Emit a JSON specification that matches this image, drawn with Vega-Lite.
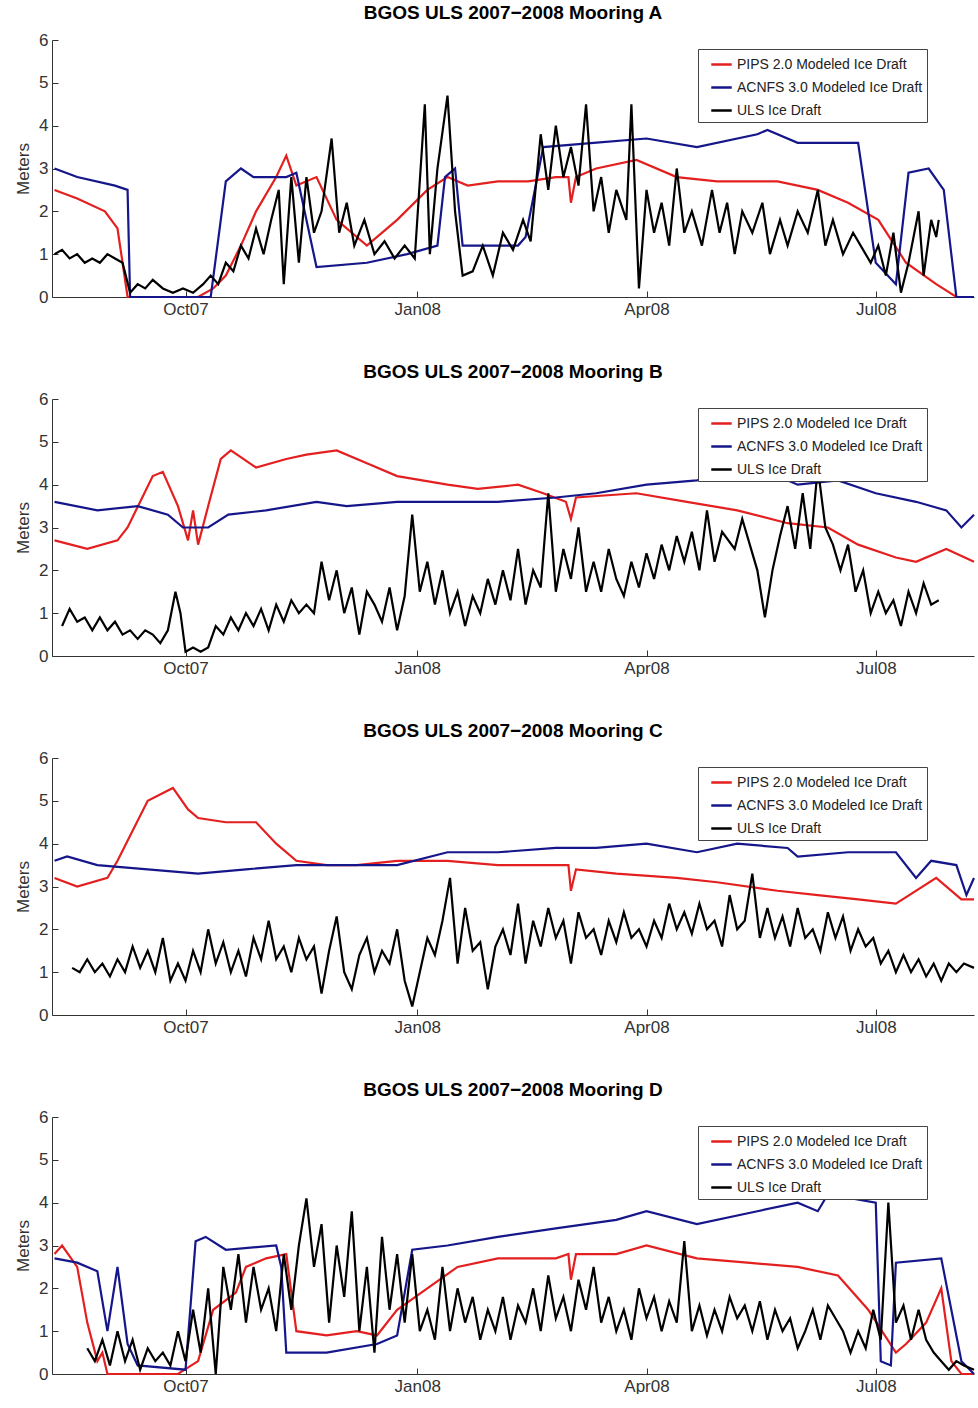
{
"$schema":"https://vega.github.io/schema/vega-lite/v6.json",
"background":"white",
"padding":{"left":14,"top":4,"right":0,"bottom":0},
"spacing":46,
"config":{"font":"Liberation Sans","view":{"stroke":null},
"axis":{"grid":false,"domainColor":"#333","tickColor":"#333","labelColor":"#333","labelFont":"Liberation Sans","labelFontSize":17,"titleFont":"Liberation Sans","titleFontWeight":"normal","titleFontSize":17,"titleColor":"#333","tickSize":-6,"labelPadding":10},
"title":{"font":"Liberation Sans","fontSize":19,"fontWeight":"bold","color":"#000","offset":8},
"legend":{"orient":"none","legendX":646,"legendY":9,"fillColor":"white","strokeColor":"#444","padding":4,"symbolType":"stroke","symbolStrokeWidth":2.5,"symbolSize":420,"labelFontSize":14,"labelColor":"#222","labelLimit":400,"labelFont":"Liberation Sans","rowPadding":4,"symbolOffset":8}},
"datasets":{"d":[
{"p":"A","s":"P","t":1,"v":2.5},{"p":"A","s":"P","t":10,"v":2.3},{"p":"A","s":"P","t":21,"v":2.0},{"p":"A","s":"P","t":26,"v":1.6},{"p":"A","s":"P","t":30,"v":0},{"p":"A","s":"P","t":58,"v":0},{"p":"A","s":"P","t":64,"v":0.2},{"p":"A","s":"P","t":69,"v":0.5},{"p":"A","s":"P","t":75,"v":1.2},{"p":"A","s":"P","t":81,"v":2.0},{"p":"A","s":"P","t":89,"v":2.8},{"p":"A","s":"P","t":93,"v":3.3},{"p":"A","s":"P","t":97,"v":2.6},{"p":"A","s":"P","t":105,"v":2.8},{"p":"A","s":"P","t":113,"v":1.8},{"p":"A","s":"P","t":125,"v":1.2},{"p":"A","s":"P","t":137,"v":1.8},{"p":"A","s":"P","t":149,"v":2.5},{"p":"A","s":"P","t":157,"v":2.8},{"p":"A","s":"P","t":165,"v":2.6},{"p":"A","s":"P","t":177,"v":2.7},{"p":"A","s":"P","t":189,"v":2.7},{"p":"A","s":"P","t":200,"v":2.8},{"p":"A","s":"P","t":205,"v":2.8},{"p":"A","s":"P","t":206,"v":2.2},{"p":"A","s":"P","t":208,"v":2.8},{"p":"A","s":"P","t":216,"v":3.0},{"p":"A","s":"P","t":232,"v":3.2},{"p":"A","s":"P","t":248,"v":2.8},{"p":"A","s":"P","t":264,"v":2.7},{"p":"A","s":"P","t":288,"v":2.7},{"p":"A","s":"P","t":304,"v":2.5},{"p":"A","s":"P","t":316,"v":2.2},{"p":"A","s":"P","t":328,"v":1.8},{"p":"A","s":"P","t":339,"v":0.8},{"p":"A","s":"P","t":351,"v":0.3},{"p":"A","s":"P","t":359,"v":0},{"p":"A","s":"P","t":366,"v":0},
{"p":"A","s":"A","t":1,"v":3.0},{"p":"A","s":"A","t":10,"v":2.8},{"p":"A","s":"A","t":25,"v":2.6},{"p":"A","s":"A","t":30,"v":2.5},{"p":"A","s":"A","t":31,"v":0},{"p":"A","s":"A","t":63,"v":0},{"p":"A","s":"A","t":69,"v":2.7},{"p":"A","s":"A","t":75,"v":3.0},{"p":"A","s":"A","t":80,"v":2.8},{"p":"A","s":"A","t":93,"v":2.8},{"p":"A","s":"A","t":97,"v":2.9},{"p":"A","s":"A","t":105,"v":0.7},{"p":"A","s":"A","t":125,"v":0.8},{"p":"A","s":"A","t":141,"v":1.0},{"p":"A","s":"A","t":153,"v":1.2},{"p":"A","s":"A","t":156,"v":2.8},{"p":"A","s":"A","t":160,"v":3.0},{"p":"A","s":"A","t":163,"v":1.2},{"p":"A","s":"A","t":185,"v":1.2},{"p":"A","s":"A","t":188,"v":1.4},{"p":"A","s":"A","t":195,"v":3.5},{"p":"A","s":"A","t":215,"v":3.6},{"p":"A","s":"A","t":236,"v":3.7},{"p":"A","s":"A","t":256,"v":3.5},{"p":"A","s":"A","t":280,"v":3.8},{"p":"A","s":"A","t":284,"v":3.9},{"p":"A","s":"A","t":296,"v":3.6},{"p":"A","s":"A","t":320,"v":3.6},{"p":"A","s":"A","t":327,"v":0.8},{"p":"A","s":"A","t":335,"v":0.3},{"p":"A","s":"A","t":340,"v":2.9},{"p":"A","s":"A","t":348,"v":3.0},{"p":"A","s":"A","t":354,"v":2.5},{"p":"A","s":"A","t":359,"v":0},{"p":"A","s":"A","t":366,"v":0},
{"p":"A","s":"U","t":1,"v":1.0},{"p":"A","s":"U","t":4,"v":1.1},{"p":"A","s":"U","t":7,"v":0.9},{"p":"A","s":"U","t":10,"v":1.0},{"p":"A","s":"U","t":13,"v":0.8},{"p":"A","s":"U","t":16,"v":0.9},{"p":"A","s":"U","t":19,"v":0.8},{"p":"A","s":"U","t":22,"v":1.0},{"p":"A","s":"U","t":25,"v":0.9},{"p":"A","s":"U","t":28,"v":0.8},{"p":"A","s":"U","t":31,"v":0.1},{"p":"A","s":"U","t":34,"v":0.3},{"p":"A","s":"U","t":37,"v":0.2},{"p":"A","s":"U","t":40,"v":0.4},{"p":"A","s":"U","t":44,"v":0.2},{"p":"A","s":"U","t":48,"v":0.1},{"p":"A","s":"U","t":52,"v":0.2},{"p":"A","s":"U","t":56,"v":0.1},{"p":"A","s":"U","t":60,"v":0.3},{"p":"A","s":"U","t":63,"v":0.5},{"p":"A","s":"U","t":66,"v":0.3},{"p":"A","s":"U","t":69,"v":0.8},{"p":"A","s":"U","t":72,"v":0.6},{"p":"A","s":"U","t":75,"v":1.2},{"p":"A","s":"U","t":78,"v":0.9},{"p":"A","s":"U","t":81,"v":1.6},{"p":"A","s":"U","t":84,"v":1.0},{"p":"A","s":"U","t":87,"v":1.8},{"p":"A","s":"U","t":90,"v":2.5},{"p":"A","s":"U","t":92,"v":0.3},{"p":"A","s":"U","t":95,"v":2.8},{"p":"A","s":"U","t":98,"v":0.8},{"p":"A","s":"U","t":101,"v":2.8},{"p":"A","s":"U","t":104,"v":1.5},{"p":"A","s":"U","t":107,"v":2.0},{"p":"A","s":"U","t":111,"v":3.7},{"p":"A","s":"U","t":114,"v":1.5},{"p":"A","s":"U","t":117,"v":2.2},{"p":"A","s":"U","t":120,"v":1.2},{"p":"A","s":"U","t":124,"v":1.8},{"p":"A","s":"U","t":128,"v":1.0},{"p":"A","s":"U","t":132,"v":1.3},{"p":"A","s":"U","t":136,"v":0.9},{"p":"A","s":"U","t":140,"v":1.2},{"p":"A","s":"U","t":144,"v":0.9},{"p":"A","s":"U","t":148,"v":4.5},{"p":"A","s":"U","t":150,"v":1.0},{"p":"A","s":"U","t":153,"v":3.0},{"p":"A","s":"U","t":157,"v":4.7},{"p":"A","s":"U","t":160,"v":2.0},{"p":"A","s":"U","t":163,"v":0.5},{"p":"A","s":"U","t":167,"v":0.6},{"p":"A","s":"U","t":171,"v":1.2},{"p":"A","s":"U","t":175,"v":0.5},{"p":"A","s":"U","t":179,"v":1.5},{"p":"A","s":"U","t":183,"v":1.1},{"p":"A","s":"U","t":187,"v":1.8},{"p":"A","s":"U","t":190,"v":1.3},{"p":"A","s":"U","t":194,"v":3.8},{"p":"A","s":"U","t":197,"v":2.5},{"p":"A","s":"U","t":200,"v":4.0},{"p":"A","s":"U","t":203,"v":2.8},{"p":"A","s":"U","t":206,"v":3.5},{"p":"A","s":"U","t":209,"v":2.6},{"p":"A","s":"U","t":212,"v":4.5},{"p":"A","s":"U","t":215,"v":2.0},{"p":"A","s":"U","t":218,"v":2.8},{"p":"A","s":"U","t":221,"v":1.5},{"p":"A","s":"U","t":224,"v":2.5},{"p":"A","s":"U","t":228,"v":1.8},{"p":"A","s":"U","t":230,"v":4.5},{"p":"A","s":"U","t":233,"v":0.2},{"p":"A","s":"U","t":236,"v":2.5},{"p":"A","s":"U","t":239,"v":1.5},{"p":"A","s":"U","t":242,"v":2.2},{"p":"A","s":"U","t":245,"v":1.2},{"p":"A","s":"U","t":248,"v":3.0},{"p":"A","s":"U","t":251,"v":1.5},{"p":"A","s":"U","t":254,"v":2.0},{"p":"A","s":"U","t":258,"v":1.2},{"p":"A","s":"U","t":262,"v":2.5},{"p":"A","s":"U","t":265,"v":1.5},{"p":"A","s":"U","t":268,"v":2.2},{"p":"A","s":"U","t":271,"v":1.0},{"p":"A","s":"U","t":274,"v":2.0},{"p":"A","s":"U","t":278,"v":1.5},{"p":"A","s":"U","t":282,"v":2.2},{"p":"A","s":"U","t":285,"v":1.0},{"p":"A","s":"U","t":289,"v":1.8},{"p":"A","s":"U","t":292,"v":1.2},{"p":"A","s":"U","t":296,"v":2.0},{"p":"A","s":"U","t":300,"v":1.5},{"p":"A","s":"U","t":304,"v":2.5},{"p":"A","s":"U","t":307,"v":1.2},{"p":"A","s":"U","t":310,"v":1.8},{"p":"A","s":"U","t":314,"v":1.0},{"p":"A","s":"U","t":318,"v":1.5},{"p":"A","s":"U","t":321,"v":1.2},{"p":"A","s":"U","t":325,"v":0.8},{"p":"A","s":"U","t":328,"v":1.2},{"p":"A","s":"U","t":331,"v":0.5},{"p":"A","s":"U","t":334,"v":1.5},{"p":"A","s":"U","t":337,"v":0.1},{"p":"A","s":"U","t":340,"v":0.8},{"p":"A","s":"U","t":344,"v":2.0},{"p":"A","s":"U","t":346,"v":0.5},{"p":"A","s":"U","t":349,"v":1.8},{"p":"A","s":"U","t":351,"v":1.4},{"p":"A","s":"U","t":352,"v":1.8},
{"p":"B","s":"P","t":1,"v":2.7},{"p":"B","s":"P","t":14,"v":2.5},{"p":"B","s":"P","t":26,"v":2.7},{"p":"B","s":"P","t":30,"v":3.0},{"p":"B","s":"P","t":40,"v":4.2},{"p":"B","s":"P","t":44,"v":4.3},{"p":"B","s":"P","t":50,"v":3.5},{"p":"B","s":"P","t":54,"v":2.7},{"p":"B","s":"P","t":56,"v":3.4},{"p":"B","s":"P","t":58,"v":2.6},{"p":"B","s":"P","t":62,"v":3.5},{"p":"B","s":"P","t":67,"v":4.6},{"p":"B","s":"P","t":71,"v":4.8},{"p":"B","s":"P","t":81,"v":4.4},{"p":"B","s":"P","t":93,"v":4.6},{"p":"B","s":"P","t":101,"v":4.7},{"p":"B","s":"P","t":113,"v":4.8},{"p":"B","s":"P","t":125,"v":4.5},{"p":"B","s":"P","t":137,"v":4.2},{"p":"B","s":"P","t":157,"v":4.0},{"p":"B","s":"P","t":169,"v":3.9},{"p":"B","s":"P","t":185,"v":4.0},{"p":"B","s":"P","t":195,"v":3.8},{"p":"B","s":"P","t":204,"v":3.6},{"p":"B","s":"P","t":206,"v":3.2},{"p":"B","s":"P","t":208,"v":3.7},{"p":"B","s":"P","t":232,"v":3.8},{"p":"B","s":"P","t":252,"v":3.6},{"p":"B","s":"P","t":272,"v":3.4},{"p":"B","s":"P","t":292,"v":3.1},{"p":"B","s":"P","t":308,"v":3.0},{"p":"B","s":"P","t":320,"v":2.6},{"p":"B","s":"P","t":335,"v":2.3},{"p":"B","s":"P","t":343,"v":2.2},{"p":"B","s":"P","t":355,"v":2.5},{"p":"B","s":"P","t":366,"v":2.2},
{"p":"B","s":"A","t":1,"v":3.6},{"p":"B","s":"A","t":18,"v":3.4},{"p":"B","s":"A","t":34,"v":3.5},{"p":"B","s":"A","t":46,"v":3.3},{"p":"B","s":"A","t":52,"v":3.0},{"p":"B","s":"A","t":62,"v":3.0},{"p":"B","s":"A","t":70,"v":3.3},{"p":"B","s":"A","t":85,"v":3.4},{"p":"B","s":"A","t":105,"v":3.6},{"p":"B","s":"A","t":117,"v":3.5},{"p":"B","s":"A","t":137,"v":3.6},{"p":"B","s":"A","t":157,"v":3.6},{"p":"B","s":"A","t":177,"v":3.6},{"p":"B","s":"A","t":200,"v":3.7},{"p":"B","s":"A","t":216,"v":3.8},{"p":"B","s":"A","t":236,"v":4.0},{"p":"B","s":"A","t":256,"v":4.1},{"p":"B","s":"A","t":272,"v":4.3},{"p":"B","s":"A","t":284,"v":4.3},{"p":"B","s":"A","t":296,"v":4.0},{"p":"B","s":"A","t":312,"v":4.1},{"p":"B","s":"A","t":327,"v":3.8},{"p":"B","s":"A","t":343,"v":3.6},{"p":"B","s":"A","t":355,"v":3.4},{"p":"B","s":"A","t":361,"v":3.0},{"p":"B","s":"A","t":366,"v":3.3},
{"p":"B","s":"U","t":4,"v":0.7},{"p":"B","s":"U","t":7,"v":1.1},{"p":"B","s":"U","t":10,"v":0.8},{"p":"B","s":"U","t":13,"v":0.9},{"p":"B","s":"U","t":16,"v":0.6},{"p":"B","s":"U","t":19,"v":0.9},{"p":"B","s":"U","t":22,"v":0.6},{"p":"B","s":"U","t":25,"v":0.8},{"p":"B","s":"U","t":28,"v":0.5},{"p":"B","s":"U","t":31,"v":0.6},{"p":"B","s":"U","t":34,"v":0.4},{"p":"B","s":"U","t":37,"v":0.6},{"p":"B","s":"U","t":40,"v":0.5},{"p":"B","s":"U","t":43,"v":0.3},{"p":"B","s":"U","t":46,"v":0.6},{"p":"B","s":"U","t":49,"v":1.5},{"p":"B","s":"U","t":51,"v":1.0},{"p":"B","s":"U","t":53,"v":0.1},{"p":"B","s":"U","t":56,"v":0.2},{"p":"B","s":"U","t":59,"v":0.1},{"p":"B","s":"U","t":62,"v":0.2},{"p":"B","s":"U","t":65,"v":0.7},{"p":"B","s":"U","t":68,"v":0.5},{"p":"B","s":"U","t":71,"v":0.9},{"p":"B","s":"U","t":74,"v":0.6},{"p":"B","s":"U","t":77,"v":1.0},{"p":"B","s":"U","t":80,"v":0.7},{"p":"B","s":"U","t":83,"v":1.1},{"p":"B","s":"U","t":86,"v":0.6},{"p":"B","s":"U","t":89,"v":1.2},{"p":"B","s":"U","t":92,"v":0.8},{"p":"B","s":"U","t":95,"v":1.3},{"p":"B","s":"U","t":98,"v":1.0},{"p":"B","s":"U","t":101,"v":1.2},{"p":"B","s":"U","t":104,"v":1.0},{"p":"B","s":"U","t":107,"v":2.2},{"p":"B","s":"U","t":110,"v":1.3},{"p":"B","s":"U","t":113,"v":2.0},{"p":"B","s":"U","t":116,"v":1.0},{"p":"B","s":"U","t":119,"v":1.6},{"p":"B","s":"U","t":122,"v":0.5},{"p":"B","s":"U","t":125,"v":1.5},{"p":"B","s":"U","t":128,"v":1.2},{"p":"B","s":"U","t":131,"v":0.8},{"p":"B","s":"U","t":134,"v":1.6},{"p":"B","s":"U","t":137,"v":0.6},{"p":"B","s":"U","t":140,"v":1.4},{"p":"B","s":"U","t":143,"v":3.3},{"p":"B","s":"U","t":146,"v":1.5},{"p":"B","s":"U","t":149,"v":2.2},{"p":"B","s":"U","t":152,"v":1.2},{"p":"B","s":"U","t":155,"v":2.0},{"p":"B","s":"U","t":158,"v":1.0},{"p":"B","s":"U","t":161,"v":1.5},{"p":"B","s":"U","t":164,"v":0.7},{"p":"B","s":"U","t":167,"v":1.4},{"p":"B","s":"U","t":170,"v":1.0},{"p":"B","s":"U","t":173,"v":1.8},{"p":"B","s":"U","t":176,"v":1.2},{"p":"B","s":"U","t":179,"v":2.0},{"p":"B","s":"U","t":182,"v":1.3},{"p":"B","s":"U","t":185,"v":2.5},{"p":"B","s":"U","t":188,"v":1.2},{"p":"B","s":"U","t":191,"v":2.0},{"p":"B","s":"U","t":194,"v":1.6},{"p":"B","s":"U","t":197,"v":3.8},{"p":"B","s":"U","t":200,"v":1.5},{"p":"B","s":"U","t":203,"v":2.5},{"p":"B","s":"U","t":206,"v":1.8},{"p":"B","s":"U","t":209,"v":3.0},{"p":"B","s":"U","t":212,"v":1.5},{"p":"B","s":"U","t":215,"v":2.2},{"p":"B","s":"U","t":218,"v":1.5},{"p":"B","s":"U","t":221,"v":2.5},{"p":"B","s":"U","t":224,"v":1.8},{"p":"B","s":"U","t":227,"v":1.4},{"p":"B","s":"U","t":230,"v":2.2},{"p":"B","s":"U","t":233,"v":1.6},{"p":"B","s":"U","t":236,"v":2.4},{"p":"B","s":"U","t":239,"v":1.8},{"p":"B","s":"U","t":242,"v":2.6},{"p":"B","s":"U","t":245,"v":2.0},{"p":"B","s":"U","t":248,"v":2.8},{"p":"B","s":"U","t":251,"v":2.2},{"p":"B","s":"U","t":254,"v":2.9},{"p":"B","s":"U","t":257,"v":2.0},{"p":"B","s":"U","t":260,"v":3.4},{"p":"B","s":"U","t":263,"v":2.2},{"p":"B","s":"U","t":266,"v":2.9},{"p":"B","s":"U","t":271,"v":2.5},{"p":"B","s":"U","t":274,"v":3.2},{"p":"B","s":"U","t":277,"v":2.6},{"p":"B","s":"U","t":280,"v":2.0},{"p":"B","s":"U","t":283,"v":0.9},{"p":"B","s":"U","t":286,"v":2.0},{"p":"B","s":"U","t":289,"v":2.8},{"p":"B","s":"U","t":292,"v":3.5},{"p":"B","s":"U","t":295,"v":2.5},{"p":"B","s":"U","t":298,"v":3.8},{"p":"B","s":"U","t":301,"v":2.5},{"p":"B","s":"U","t":304,"v":4.4},{"p":"B","s":"U","t":307,"v":3.0},{"p":"B","s":"U","t":310,"v":2.6},{"p":"B","s":"U","t":313,"v":2.0},{"p":"B","s":"U","t":316,"v":2.6},{"p":"B","s":"U","t":319,"v":1.5},{"p":"B","s":"U","t":322,"v":2.0},{"p":"B","s":"U","t":325,"v":1.0},{"p":"B","s":"U","t":328,"v":1.5},{"p":"B","s":"U","t":331,"v":1.0},{"p":"B","s":"U","t":334,"v":1.3},{"p":"B","s":"U","t":337,"v":0.7},{"p":"B","s":"U","t":340,"v":1.5},{"p":"B","s":"U","t":343,"v":1.0},{"p":"B","s":"U","t":346,"v":1.7},{"p":"B","s":"U","t":349,"v":1.2},{"p":"B","s":"U","t":352,"v":1.3},
{"p":"C","s":"P","t":1,"v":3.2},{"p":"C","s":"P","t":10,"v":3.0},{"p":"C","s":"P","t":22,"v":3.2},{"p":"C","s":"P","t":26,"v":3.6},{"p":"C","s":"P","t":32,"v":4.3},{"p":"C","s":"P","t":38,"v":5.0},{"p":"C","s":"P","t":48,"v":5.3},{"p":"C","s":"P","t":54,"v":4.8},{"p":"C","s":"P","t":58,"v":4.6},{"p":"C","s":"P","t":69,"v":4.5},{"p":"C","s":"P","t":81,"v":4.5},{"p":"C","s":"P","t":89,"v":4.0},{"p":"C","s":"P","t":97,"v":3.6},{"p":"C","s":"P","t":109,"v":3.5},{"p":"C","s":"P","t":121,"v":3.5},{"p":"C","s":"P","t":137,"v":3.6},{"p":"C","s":"P","t":157,"v":3.6},{"p":"C","s":"P","t":177,"v":3.5},{"p":"C","s":"P","t":200,"v":3.5},{"p":"C","s":"P","t":205,"v":3.5},{"p":"C","s":"P","t":206,"v":2.9},{"p":"C","s":"P","t":208,"v":3.4},{"p":"C","s":"P","t":224,"v":3.3},{"p":"C","s":"P","t":248,"v":3.2},{"p":"C","s":"P","t":264,"v":3.1},{"p":"C","s":"P","t":288,"v":2.9},{"p":"C","s":"P","t":304,"v":2.8},{"p":"C","s":"P","t":320,"v":2.7},{"p":"C","s":"P","t":335,"v":2.6},{"p":"C","s":"P","t":351,"v":3.2},{"p":"C","s":"P","t":361,"v":2.7},{"p":"C","s":"P","t":366,"v":2.7},
{"p":"C","s":"A","t":1,"v":3.6},{"p":"C","s":"A","t":6,"v":3.7},{"p":"C","s":"A","t":18,"v":3.5},{"p":"C","s":"A","t":38,"v":3.4},{"p":"C","s":"A","t":58,"v":3.3},{"p":"C","s":"A","t":77,"v":3.4},{"p":"C","s":"A","t":97,"v":3.5},{"p":"C","s":"A","t":137,"v":3.5},{"p":"C","s":"A","t":157,"v":3.8},{"p":"C","s":"A","t":177,"v":3.8},{"p":"C","s":"A","t":200,"v":3.9},{"p":"C","s":"A","t":216,"v":3.9},{"p":"C","s":"A","t":236,"v":4.0},{"p":"C","s":"A","t":256,"v":3.8},{"p":"C","s":"A","t":272,"v":4.0},{"p":"C","s":"A","t":292,"v":3.9},{"p":"C","s":"A","t":296,"v":3.7},{"p":"C","s":"A","t":316,"v":3.8},{"p":"C","s":"A","t":335,"v":3.8},{"p":"C","s":"A","t":343,"v":3.2},{"p":"C","s":"A","t":349,"v":3.6},{"p":"C","s":"A","t":359,"v":3.5},{"p":"C","s":"A","t":363,"v":2.8},{"p":"C","s":"A","t":366,"v":3.2},
{"p":"C","s":"U","t":8,"v":1.1},{"p":"C","s":"U","t":11,"v":1.0},{"p":"C","s":"U","t":14,"v":1.3},{"p":"C","s":"U","t":17,"v":1.0},{"p":"C","s":"U","t":20,"v":1.2},{"p":"C","s":"U","t":23,"v":0.9},{"p":"C","s":"U","t":26,"v":1.3},{"p":"C","s":"U","t":29,"v":1.0},{"p":"C","s":"U","t":32,"v":1.6},{"p":"C","s":"U","t":35,"v":1.1},{"p":"C","s":"U","t":38,"v":1.5},{"p":"C","s":"U","t":41,"v":1.0},{"p":"C","s":"U","t":44,"v":1.8},{"p":"C","s":"U","t":47,"v":0.8},{"p":"C","s":"U","t":50,"v":1.2},{"p":"C","s":"U","t":53,"v":0.8},{"p":"C","s":"U","t":56,"v":1.5},{"p":"C","s":"U","t":59,"v":1.0},{"p":"C","s":"U","t":62,"v":2.0},{"p":"C","s":"U","t":65,"v":1.2},{"p":"C","s":"U","t":68,"v":1.7},{"p":"C","s":"U","t":71,"v":1.0},{"p":"C","s":"U","t":74,"v":1.5},{"p":"C","s":"U","t":77,"v":0.9},{"p":"C","s":"U","t":80,"v":1.8},{"p":"C","s":"U","t":83,"v":1.3},{"p":"C","s":"U","t":86,"v":2.2},{"p":"C","s":"U","t":89,"v":1.3},{"p":"C","s":"U","t":92,"v":1.6},{"p":"C","s":"U","t":95,"v":1.0},{"p":"C","s":"U","t":98,"v":1.8},{"p":"C","s":"U","t":101,"v":1.3},{"p":"C","s":"U","t":104,"v":1.6},{"p":"C","s":"U","t":107,"v":0.5},{"p":"C","s":"U","t":110,"v":1.5},{"p":"C","s":"U","t":113,"v":2.3},{"p":"C","s":"U","t":116,"v":1.0},{"p":"C","s":"U","t":119,"v":0.6},{"p":"C","s":"U","t":122,"v":1.4},{"p":"C","s":"U","t":125,"v":1.8},{"p":"C","s":"U","t":128,"v":1.0},{"p":"C","s":"U","t":131,"v":1.5},{"p":"C","s":"U","t":134,"v":1.2},{"p":"C","s":"U","t":137,"v":2.0},{"p":"C","s":"U","t":140,"v":0.8},{"p":"C","s":"U","t":143,"v":0.2},{"p":"C","s":"U","t":146,"v":1.0},{"p":"C","s":"U","t":149,"v":1.8},{"p":"C","s":"U","t":152,"v":1.4},{"p":"C","s":"U","t":155,"v":2.2},{"p":"C","s":"U","t":158,"v":3.2},{"p":"C","s":"U","t":161,"v":1.2},{"p":"C","s":"U","t":164,"v":2.5},{"p":"C","s":"U","t":167,"v":1.5},{"p":"C","s":"U","t":170,"v":1.7},{"p":"C","s":"U","t":173,"v":0.6},{"p":"C","s":"U","t":176,"v":1.6},{"p":"C","s":"U","t":179,"v":2.0},{"p":"C","s":"U","t":182,"v":1.4},{"p":"C","s":"U","t":185,"v":2.6},{"p":"C","s":"U","t":188,"v":1.2},{"p":"C","s":"U","t":191,"v":2.2},{"p":"C","s":"U","t":194,"v":1.6},{"p":"C","s":"U","t":197,"v":2.5},{"p":"C","s":"U","t":200,"v":1.8},{"p":"C","s":"U","t":203,"v":2.2},{"p":"C","s":"U","t":206,"v":1.2},{"p":"C","s":"U","t":209,"v":2.4},{"p":"C","s":"U","t":212,"v":1.8},{"p":"C","s":"U","t":215,"v":2.0},{"p":"C","s":"U","t":218,"v":1.4},{"p":"C","s":"U","t":221,"v":2.2},{"p":"C","s":"U","t":224,"v":1.7},{"p":"C","s":"U","t":227,"v":2.4},{"p":"C","s":"U","t":230,"v":1.8},{"p":"C","s":"U","t":233,"v":2.0},{"p":"C","s":"U","t":236,"v":1.6},{"p":"C","s":"U","t":239,"v":2.2},{"p":"C","s":"U","t":242,"v":1.8},{"p":"C","s":"U","t":245,"v":2.6},{"p":"C","s":"U","t":248,"v":2.0},{"p":"C","s":"U","t":251,"v":2.4},{"p":"C","s":"U","t":254,"v":1.9},{"p":"C","s":"U","t":257,"v":2.6},{"p":"C","s":"U","t":260,"v":2.0},{"p":"C","s":"U","t":263,"v":2.2},{"p":"C","s":"U","t":266,"v":1.6},{"p":"C","s":"U","t":269,"v":2.8},{"p":"C","s":"U","t":272,"v":2.0},{"p":"C","s":"U","t":275,"v":2.2},{"p":"C","s":"U","t":278,"v":3.3},{"p":"C","s":"U","t":281,"v":1.8},{"p":"C","s":"U","t":284,"v":2.5},{"p":"C","s":"U","t":287,"v":1.8},{"p":"C","s":"U","t":290,"v":2.3},{"p":"C","s":"U","t":293,"v":1.6},{"p":"C","s":"U","t":296,"v":2.5},{"p":"C","s":"U","t":299,"v":1.8},{"p":"C","s":"U","t":302,"v":2.0},{"p":"C","s":"U","t":305,"v":1.5},{"p":"C","s":"U","t":308,"v":2.4},{"p":"C","s":"U","t":311,"v":1.8},{"p":"C","s":"U","t":314,"v":2.3},{"p":"C","s":"U","t":317,"v":1.5},{"p":"C","s":"U","t":320,"v":2.0},{"p":"C","s":"U","t":323,"v":1.6},{"p":"C","s":"U","t":326,"v":1.8},{"p":"C","s":"U","t":329,"v":1.2},{"p":"C","s":"U","t":332,"v":1.5},{"p":"C","s":"U","t":335,"v":1.0},{"p":"C","s":"U","t":338,"v":1.4},{"p":"C","s":"U","t":341,"v":1.0},{"p":"C","s":"U","t":344,"v":1.3},{"p":"C","s":"U","t":347,"v":0.9},{"p":"C","s":"U","t":350,"v":1.2},{"p":"C","s":"U","t":353,"v":0.8},{"p":"C","s":"U","t":356,"v":1.2},{"p":"C","s":"U","t":359,"v":1.0},{"p":"C","s":"U","t":362,"v":1.2},{"p":"C","s":"U","t":366,"v":1.1},
{"p":"D","s":"P","t":1,"v":2.8},{"p":"D","s":"P","t":4,"v":3.0},{"p":"D","s":"P","t":10,"v":2.5},{"p":"D","s":"P","t":14,"v":1.2},{"p":"D","s":"P","t":18,"v":0.3},{"p":"D","s":"P","t":20,"v":0.5},{"p":"D","s":"P","t":22,"v":0},{"p":"D","s":"P","t":50,"v":0},{"p":"D","s":"P","t":58,"v":0.3},{"p":"D","s":"P","t":64,"v":1.5},{"p":"D","s":"P","t":73,"v":1.9},{"p":"D","s":"P","t":77,"v":2.5},{"p":"D","s":"P","t":85,"v":2.7},{"p":"D","s":"P","t":93,"v":2.8},{"p":"D","s":"P","t":97,"v":1.0},{"p":"D","s":"P","t":109,"v":0.9},{"p":"D","s":"P","t":121,"v":1.0},{"p":"D","s":"P","t":129,"v":0.9},{"p":"D","s":"P","t":137,"v":1.5},{"p":"D","s":"P","t":149,"v":2.0},{"p":"D","s":"P","t":161,"v":2.5},{"p":"D","s":"P","t":177,"v":2.7},{"p":"D","s":"P","t":200,"v":2.7},{"p":"D","s":"P","t":205,"v":2.8},{"p":"D","s":"P","t":206,"v":2.2},{"p":"D","s":"P","t":208,"v":2.8},{"p":"D","s":"P","t":224,"v":2.8},{"p":"D","s":"P","t":236,"v":3.0},{"p":"D","s":"P","t":256,"v":2.7},{"p":"D","s":"P","t":276,"v":2.6},{"p":"D","s":"P","t":296,"v":2.5},{"p":"D","s":"P","t":312,"v":2.3},{"p":"D","s":"P","t":324,"v":1.5},{"p":"D","s":"P","t":335,"v":0.5},{"p":"D","s":"P","t":339,"v":0.7},{"p":"D","s":"P","t":347,"v":1.2},{"p":"D","s":"P","t":353,"v":2.0},{"p":"D","s":"P","t":357,"v":0.3},{"p":"D","s":"P","t":361,"v":0},{"p":"D","s":"P","t":366,"v":0},
{"p":"D","s":"A","t":1,"v":2.7},{"p":"D","s":"A","t":10,"v":2.6},{"p":"D","s":"A","t":18,"v":2.4},{"p":"D","s":"A","t":22,"v":1.0},{"p":"D","s":"A","t":26,"v":2.5},{"p":"D","s":"A","t":30,"v":0.7},{"p":"D","s":"A","t":34,"v":0.2},{"p":"D","s":"A","t":53,"v":0.1},{"p":"D","s":"A","t":57,"v":3.1},{"p":"D","s":"A","t":61,"v":3.2},{"p":"D","s":"A","t":69,"v":2.9},{"p":"D","s":"A","t":89,"v":3.0},{"p":"D","s":"A","t":91,"v":2.5},{"p":"D","s":"A","t":93,"v":0.5},{"p":"D","s":"A","t":109,"v":0.5},{"p":"D","s":"A","t":129,"v":0.7},{"p":"D","s":"A","t":137,"v":0.9},{"p":"D","s":"A","t":143,"v":2.9},{"p":"D","s":"A","t":157,"v":3.0},{"p":"D","s":"A","t":177,"v":3.2},{"p":"D","s":"A","t":200,"v":3.4},{"p":"D","s":"A","t":224,"v":3.6},{"p":"D","s":"A","t":236,"v":3.8},{"p":"D","s":"A","t":256,"v":3.5},{"p":"D","s":"A","t":280,"v":3.8},{"p":"D","s":"A","t":296,"v":4.0},{"p":"D","s":"A","t":304,"v":3.8},{"p":"D","s":"A","t":308,"v":4.2},{"p":"D","s":"A","t":327,"v":4.0},{"p":"D","s":"A","t":329,"v":0.3},{"p":"D","s":"A","t":333,"v":0.2},{"p":"D","s":"A","t":335,"v":2.6},{"p":"D","s":"A","t":353,"v":2.7},{"p":"D","s":"A","t":361,"v":0.3},{"p":"D","s":"A","t":366,"v":0},
{"p":"D","s":"U","t":14,"v":0.6},{"p":"D","s":"U","t":17,"v":0.3},{"p":"D","s":"U","t":20,"v":0.8},{"p":"D","s":"U","t":23,"v":0.2},{"p":"D","s":"U","t":26,"v":1.0},{"p":"D","s":"U","t":29,"v":0.3},{"p":"D","s":"U","t":32,"v":0.8},{"p":"D","s":"U","t":35,"v":0.1},{"p":"D","s":"U","t":38,"v":0.6},{"p":"D","s":"U","t":41,"v":0.3},{"p":"D","s":"U","t":44,"v":0.5},{"p":"D","s":"U","t":47,"v":0.2},{"p":"D","s":"U","t":50,"v":1.0},{"p":"D","s":"U","t":53,"v":0.3},{"p":"D","s":"U","t":56,"v":1.5},{"p":"D","s":"U","t":59,"v":0.5},{"p":"D","s":"U","t":62,"v":2.0},{"p":"D","s":"U","t":65,"v":0.0},{"p":"D","s":"U","t":68,"v":2.5},{"p":"D","s":"U","t":71,"v":1.5},{"p":"D","s":"U","t":74,"v":2.8},{"p":"D","s":"U","t":77,"v":1.2},{"p":"D","s":"U","t":80,"v":2.5},{"p":"D","s":"U","t":83,"v":1.5},{"p":"D","s":"U","t":86,"v":2.0},{"p":"D","s":"U","t":89,"v":1.0},{"p":"D","s":"U","t":92,"v":2.8},{"p":"D","s":"U","t":95,"v":1.5},{"p":"D","s":"U","t":98,"v":3.0},{"p":"D","s":"U","t":101,"v":4.1},{"p":"D","s":"U","t":104,"v":2.5},{"p":"D","s":"U","t":107,"v":3.5},{"p":"D","s":"U","t":110,"v":1.2},{"p":"D","s":"U","t":113,"v":3.0},{"p":"D","s":"U","t":116,"v":1.8},{"p":"D","s":"U","t":119,"v":3.8},{"p":"D","s":"U","t":122,"v":1.0},{"p":"D","s":"U","t":125,"v":2.5},{"p":"D","s":"U","t":128,"v":0.5},{"p":"D","s":"U","t":131,"v":3.2},{"p":"D","s":"U","t":134,"v":1.5},{"p":"D","s":"U","t":137,"v":2.8},{"p":"D","s":"U","t":140,"v":1.2},{"p":"D","s":"U","t":143,"v":2.8},{"p":"D","s":"U","t":146,"v":1.0},{"p":"D","s":"U","t":149,"v":1.5},{"p":"D","s":"U","t":152,"v":0.8},{"p":"D","s":"U","t":155,"v":2.5},{"p":"D","s":"U","t":158,"v":1.0},{"p":"D","s":"U","t":161,"v":2.0},{"p":"D","s":"U","t":164,"v":1.2},{"p":"D","s":"U","t":167,"v":1.8},{"p":"D","s":"U","t":170,"v":0.8},{"p":"D","s":"U","t":173,"v":1.5},{"p":"D","s":"U","t":176,"v":1.0},{"p":"D","s":"U","t":179,"v":1.8},{"p":"D","s":"U","t":182,"v":0.8},{"p":"D","s":"U","t":185,"v":1.6},{"p":"D","s":"U","t":188,"v":1.2},{"p":"D","s":"U","t":191,"v":2.0},{"p":"D","s":"U","t":194,"v":1.0},{"p":"D","s":"U","t":197,"v":2.3},{"p":"D","s":"U","t":200,"v":1.3},{"p":"D","s":"U","t":203,"v":1.8},{"p":"D","s":"U","t":206,"v":1.0},{"p":"D","s":"U","t":209,"v":2.2},{"p":"D","s":"U","t":212,"v":1.5},{"p":"D","s":"U","t":215,"v":2.5},{"p":"D","s":"U","t":218,"v":1.2},{"p":"D","s":"U","t":221,"v":1.8},{"p":"D","s":"U","t":224,"v":1.0},{"p":"D","s":"U","t":227,"v":1.5},{"p":"D","s":"U","t":230,"v":0.8},{"p":"D","s":"U","t":233,"v":2.0},{"p":"D","s":"U","t":236,"v":1.3},{"p":"D","s":"U","t":239,"v":1.8},{"p":"D","s":"U","t":242,"v":1.0},{"p":"D","s":"U","t":245,"v":1.7},{"p":"D","s":"U","t":248,"v":1.2},{"p":"D","s":"U","t":251,"v":3.1},{"p":"D","s":"U","t":254,"v":1.0},{"p":"D","s":"U","t":257,"v":1.6},{"p":"D","s":"U","t":260,"v":0.9},{"p":"D","s":"U","t":263,"v":1.5},{"p":"D","s":"U","t":266,"v":1.0},{"p":"D","s":"U","t":269,"v":1.8},{"p":"D","s":"U","t":272,"v":1.3},{"p":"D","s":"U","t":275,"v":1.6},{"p":"D","s":"U","t":278,"v":1.0},{"p":"D","s":"U","t":281,"v":1.7},{"p":"D","s":"U","t":284,"v":0.8},{"p":"D","s":"U","t":287,"v":1.5},{"p":"D","s":"U","t":290,"v":1.0},{"p":"D","s":"U","t":293,"v":1.3},{"p":"D","s":"U","t":296,"v":0.6},{"p":"D","s":"U","t":299,"v":1.0},{"p":"D","s":"U","t":302,"v":1.5},{"p":"D","s":"U","t":305,"v":0.8},{"p":"D","s":"U","t":308,"v":1.6},{"p":"D","s":"U","t":311,"v":1.3},{"p":"D","s":"U","t":314,"v":1.0},{"p":"D","s":"U","t":317,"v":0.5},{"p":"D","s":"U","t":320,"v":1.0},{"p":"D","s":"U","t":323,"v":0.6},{"p":"D","s":"U","t":326,"v":1.5},{"p":"D","s":"U","t":329,"v":0.8},{"p":"D","s":"U","t":332,"v":4.0},{"p":"D","s":"U","t":335,"v":1.2},{"p":"D","s":"U","t":338,"v":1.6},{"p":"D","s":"U","t":341,"v":0.8},{"p":"D","s":"U","t":344,"v":1.5},{"p":"D","s":"U","t":347,"v":0.8},{"p":"D","s":"U","t":350,"v":0.5},{"p":"D","s":"U","t":353,"v":0.3},{"p":"D","s":"U","t":356,"v":0.1},{"p":"D","s":"U","t":359,"v":0.3},{"p":"D","s":"U","t":362,"v":0.2},{"p":"D","s":"U","t":366,"v":0.1}
]},
"data":{"name":"d"},
"resolve":{"legend":{"color":"independent"}},
"vconcat":[
{"width":922,"height":257,"title":"BGOS ULS 2007−2008 Mooring A","transform":[{"filter":"datum.p=='A'"}],"mark":{"type":"line","strokeWidth":2.2},
"encoding":{"x":{"field":"t","type":"quantitative","scale":{"domain":[0,366],"nice":false},"axis":{"title":null,"values":[53,145,236,327],"labelExpr":"datum.value==53?'Oct07':datum.value==145?'Jan08':datum.value==236?'Apr08':'Jul08'"}},
"y":{"field":"v","type":"quantitative","scale":{"domain":[0,6]},"axis":{"title":"Meters","values":[0,1,2,3,4,5,6],"titlePadding":6}},
"color":{"field":"s","type":"nominal","scale":{"domain":["P","A","U"],"range":["#e41f1f","#15168a","#000000"]},"legend":{"title":null,"labelExpr":"datum.value=='P'?'PIPS 2.0 Modeled Ice Draft':datum.value=='A'?'ACNFS 3.0 Modeled Ice Draft':'ULS Ice Draft'"}},
"order":{"field":"t"}}},
{"width":922,"height":257,"title":"BGOS ULS 2007−2008 Mooring B","transform":[{"filter":"datum.p=='B'"}],"mark":{"type":"line","strokeWidth":2.2},
"encoding":{"x":{"field":"t","type":"quantitative","scale":{"domain":[0,366],"nice":false},"axis":{"title":null,"values":[53,145,236,327],"labelExpr":"datum.value==53?'Oct07':datum.value==145?'Jan08':datum.value==236?'Apr08':'Jul08'"}},
"y":{"field":"v","type":"quantitative","scale":{"domain":[0,6]},"axis":{"title":"Meters","values":[0,1,2,3,4,5,6],"titlePadding":6}},
"color":{"field":"s","type":"nominal","scale":{"domain":["P","A","U"],"range":["#e41f1f","#15168a","#000000"]},"legend":{"title":null,"labelExpr":"datum.value=='P'?'PIPS 2.0 Modeled Ice Draft':datum.value=='A'?'ACNFS 3.0 Modeled Ice Draft':'ULS Ice Draft'"}},
"order":{"field":"t"}}},
{"width":922,"height":257,"title":"BGOS ULS 2007−2008 Mooring C","transform":[{"filter":"datum.p=='C'"}],"mark":{"type":"line","strokeWidth":2.2},
"encoding":{"x":{"field":"t","type":"quantitative","scale":{"domain":[0,366],"nice":false},"axis":{"title":null,"values":[53,145,236,327],"labelExpr":"datum.value==53?'Oct07':datum.value==145?'Jan08':datum.value==236?'Apr08':'Jul08'"}},
"y":{"field":"v","type":"quantitative","scale":{"domain":[0,6]},"axis":{"title":"Meters","values":[0,1,2,3,4,5,6],"titlePadding":6}},
"color":{"field":"s","type":"nominal","scale":{"domain":["P","A","U"],"range":["#e41f1f","#15168a","#000000"]},"legend":{"title":null,"labelExpr":"datum.value=='P'?'PIPS 2.0 Modeled Ice Draft':datum.value=='A'?'ACNFS 3.0 Modeled Ice Draft':'ULS Ice Draft'"}},
"order":{"field":"t"}}},
{"width":922,"height":257,"title":"BGOS ULS 2007−2008 Mooring D","transform":[{"filter":"datum.p=='D'"}],"mark":{"type":"line","strokeWidth":2.2},
"encoding":{"x":{"field":"t","type":"quantitative","scale":{"domain":[0,366],"nice":false},"axis":{"title":null,"values":[53,145,236,327],"labelExpr":"datum.value==53?'Oct07':datum.value==145?'Jan08':datum.value==236?'Apr08':'Jul08'"}},
"y":{"field":"v","type":"quantitative","scale":{"domain":[0,6]},"axis":{"title":"Meters","values":[0,1,2,3,4,5,6],"titlePadding":6}},
"color":{"field":"s","type":"nominal","scale":{"domain":["P","A","U"],"range":["#e41f1f","#15168a","#000000"]},"legend":{"title":null,"labelExpr":"datum.value=='P'?'PIPS 2.0 Modeled Ice Draft':datum.value=='A'?'ACNFS 3.0 Modeled Ice Draft':'ULS Ice Draft'"}},
"order":{"field":"t"}}}
]}
